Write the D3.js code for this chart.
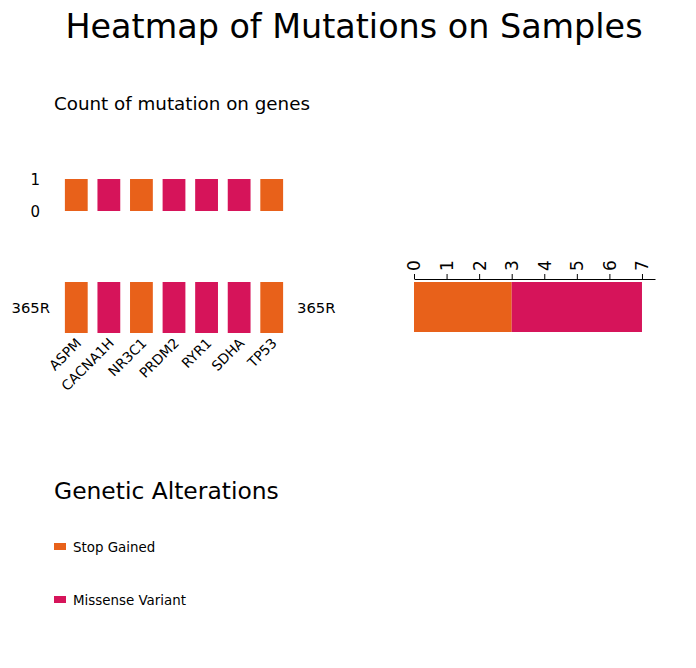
<!DOCTYPE html>
<html>
<head>
<meta charset="utf-8">
<script src="https://cdn.jsdelivr.net/npm/d3@7"></script>
<style>
  body { margin: 0; background: #fff; }
  svg { font-family: "DejaVu Sans", sans-serif; }
</style>
</head>
<body>
<svg id="chart" width="696" height="668"></svg>
<script>
const genes = ["ASPM", "CACNA1H", "NR3C1", "PRDM2", "RYR1", "SDHA", "TP53"];
const geneType = ["Stop Gained", "Missense Variant", "Stop Gained", "Missense Variant", "Missense Variant", "Missense Variant", "Stop Gained"];
const geneCounts = [1, 1, 1, 1, 1, 1, 1];
const samples = ["365R"];
const alterations = ["Stop Gained", "Missense Variant"];
const sampleCounts = [3, 4];
const colours = ["#e8611a", "#d6145a"];

const svg = d3.select("#chart");
const colour = d3.scaleOrdinal().domain(alterations).range(colours);

svg.append("text")
    .attr("x", 354).attr("y", 38)
    .attr("text-anchor", "middle")
    .attr("font-size", 33.4)
    .text("Heatmap of Mutations on Samples");

svg.append("text")
    .attr("x", 54).attr("y", 110)
    .attr("font-size", 18.3)
    .text("Count of mutation on genes");

// gene bands shared by the top bars and the heatmap cells
const x = d3.scaleBand().domain(genes).range([60, 288]).paddingInner(0.3).paddingOuter(0.15);

// top count bars
const yTop = d3.scaleLinear().domain([0, 1]).range([211, 179]);
svg.append("g").selectAll("rect")
    .data(genes)
    .join("rect")
    .attr("x", d => x(d))
    .attr("width", x.bandwidth())
    .attr("y", (d, i) => yTop(geneCounts[i]))
    .attr("height", (d, i) => yTop(0) - yTop(geneCounts[i]))
    .attr("fill", (d, i) => colour(geneType[i]));

svg.append("g").selectAll("text")
    .data(yTop.ticks(1))
    .join("text")
    .attr("x", 40).attr("y", d => yTop(d) + 6)
    .attr("text-anchor", "end")
    .attr("font-size", 15)
    .text(d => d);

// heatmap cells
const yCell = d3.scaleBand().domain(samples).range([282, 333]);
svg.append("g").selectAll("rect")
    .data(genes)
    .join("rect")
    .attr("x", d => x(d))
    .attr("width", x.bandwidth())
    .attr("y", yCell(samples[0]))
    .attr("height", yCell.bandwidth())
    .attr("fill", (d, i) => colour(geneType[i]));

svg.append("text")
    .attr("x", 50).attr("y", yCell(samples[0]) + yCell.bandwidth() / 2 + 5)
    .attr("text-anchor", "end")
    .attr("font-size", 14.8)
    .text(samples[0]);

svg.append("text")
    .attr("x", 297).attr("y", yCell(samples[0]) + yCell.bandwidth() / 2 + 5)
    .attr("font-size", 14.8)
    .text(samples[0]);

svg.append("g").selectAll("text")
    .data(genes)
    .join("text")
    .attr("transform", d => `translate(${x(d) + x.bandwidth() / 2 + 6},${344}) rotate(-45)`)
    .attr("text-anchor", "end")
    .attr("font-size", 13.8)
    .text(d => d);

// stacked bar per sample
const xs = d3.scaleLinear().domain([0, 7.4]).range([414, 655]);
let acc = 0;
const stacked = sampleCounts.map((v, i) => { const s = { a: alterations[i], x0: acc, x1: acc + v }; acc += v; return s; });

svg.append("g").selectAll("rect")
    .data(stacked)
    .join("rect")
    .attr("x", d => xs(d.x0))
    .attr("width", d => xs(d.x1) - xs(d.x0))
    .attr("y", 282).attr("height", 50)
    .attr("fill", d => colour(d.a));

const axis = svg.append("g")
    .attr("transform", "translate(0,279)")
    .call(d3.axisTop(xs).tickValues(d3.range(0, 8)).tickSize(5).tickSizeOuter(0).tickPadding(3));
axis.select(".domain").attr("stroke", "#000");
axis.selectAll(".tick line").attr("stroke", "#000");
axis.selectAll(".tick text")
    .attr("font-size", 17)
    .attr("font-family", "DejaVu Sans")
    .attr("fill", "#000")
    .attr("transform", "rotate(-90)")
    .attr("text-anchor", "start")
    .attr("x", 8).attr("y", 0).attr("dy", "0.35em");

// legend
svg.append("text")
    .attr("x", 54).attr("y", 499)
    .attr("font-size", 23.4)
    .text("Genetic Alterations");

const leg = svg.append("g").selectAll("g")
    .data(alterations)
    .join("g")
    .attr("transform", (d, i) => `translate(54,${543 + i * 53})`);
leg.append("rect").attr("width", 12).attr("height", 7).attr("fill", d => colour(d));
leg.append("text").attr("x", 19).attr("y", 8.5).attr("font-size", 13.4).text(d => d);
</script>
</body>
</html>
